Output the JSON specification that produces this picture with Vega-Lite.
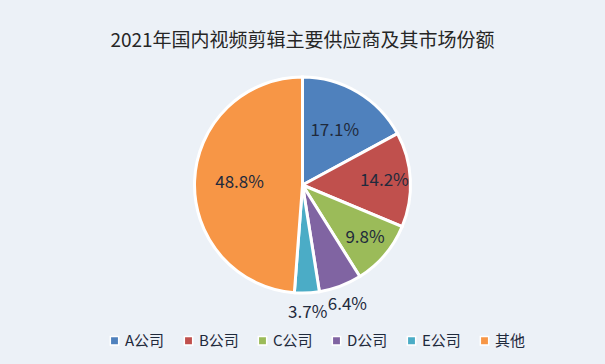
{
  "$schema": "https://vega.github.io/schema/vega-lite/v6.json",
  "width": 605,
  "height": 364,
  "padding": 0,
  "autosize": {"type": "fit", "contains": "padding"},
  "background": "#ecf1f7",
  "title": {
    "text": "2021年国内视频剪辑主要供应商及其市场份额",
    "font": "Noto Sans CJK SC",
    "fontSize": 19,
    "fontWeight": "normal",
    "color": "#262626",
    "anchor": "middle",
    "frame": "group",
    "offset": -51
  },
  "config": {
    "view": {"stroke": null},
    "text": {"font": "Noto Sans CJK SC"}
  },
  "data": {
    "values": [
      {"company": "A公司", "share": 0.171, "idx": 1},
      {"company": "B公司", "share": 0.142, "idx": 2},
      {"company": "C公司", "share": 0.098, "idx": 3},
      {"company": "D公司", "share": 0.064, "idx": 4},
      {"company": "E公司", "share": 0.037, "idx": 5},
      {"company": "其他", "share": 0.488, "idx": 6}
    ]
  },
  "encoding": {
    "theta": {"field": "share", "type": "quantitative", "stack": true},
    "order": {"field": "idx", "type": "quantitative", "sort": "ascending"}
  },
  "layer": [
    {
      "mark": {"type": "arc", "outerRadius": 108, "stroke": "#ffffff", "strokeWidth": 3, "yOffset": 3},
      "encoding": {
        "color": {
          "field": "company",
          "type": "nominal",
          "sort": null,
          "scale": {
            "domain": ["A公司", "B公司", "C公司", "D公司", "E公司", "其他"],
            "range": ["#4f81bd", "#c0504d", "#9bbb59", "#8064a2", "#4bacc6", "#f79646"]
          },
          "legend": {
            "title": null,
            "orient": "none",
            "direction": "horizontal",
            "legendX": 107,
            "legendY": 333,
            "symbolType": "square",
            "symbolSize": 70,
            "symbolStrokeColor": "#ffffff",
            "symbolStrokeWidth": 1.5,
            "labelFont": "Noto Sans CJK SC",
            "labelFontSize": 15,
            "labelColor": "#1f2a3c",
            "labelOffset": 3,
            "columnPadding": 16
          }
        }
      }
    },
    {
      "mark": {"type": "text", "radius": 63, "fontSize": 17, "color": "#1f2a3c", "yOffset": 3},
      "encoding": {
        "text": {
          "condition": {"test": "datum.company == 'A公司' || datum.company == '其他'", "field": "share", "type": "quantitative", "format": ".1%"},
          "value": ""
        }
      }
    },
    {
      "mark": {"type": "text", "radius": 82, "fontSize": 17, "color": "#1f2a3c", "yOffset": 3},
      "encoding": {
        "text": {
          "condition": {"test": "datum.company == 'B公司' || datum.company == 'C公司'", "field": "share", "type": "quantitative", "format": ".1%"},
          "value": ""
        }
      }
    },
    {
      "mark": {"type": "text", "radius": 128, "fontSize": 17, "color": "#1f2a3c", "yOffset": 3},
      "encoding": {
        "text": {
          "condition": {"test": "datum.company == 'D公司' || datum.company == 'E公司'", "field": "share", "type": "quantitative", "format": ".1%"},
          "value": ""
        }
      }
    }
  ]
}
